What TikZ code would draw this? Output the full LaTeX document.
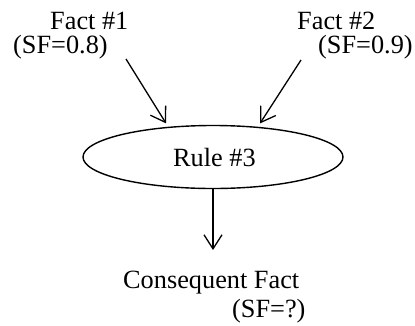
\documentclass[tikz,border=0pt]{standalone}
\usepackage{fontspec}
\setmainfont{Liberation Serif}
\usetikzlibrary{shapes.geometric,arrows.meta}
\begin{document}
\begin{tikzpicture}[x=1pt,y=-1pt,
  lbl/.style={anchor=base west,inner sep=0pt,font=\fontsize{26.3}{30}\selectfont},
  conn/.style={line width=1.3pt,-{Straight Barb[length=14pt,width=18pt,line width=1.3pt]}},
  rulebox/.style={draw,ellipse,line width=1.4pt,minimum width=260pt,minimum height=63pt,inner sep=0pt}]
\useasboundingbox (0,0) rectangle (415,325);
\node[lbl] (f1) at (50,29) {Fact \#1};
\node[lbl] (s1) at (13,53) {(SF=0.8)};
\node[lbl] (f2) at (297,29) {Fact \#2};
\node[lbl] (s2) at (318,53) {(SF=0.9)};
\node[rulebox] (rule) at (213,157) {};
\node[lbl] (rt) at (173,166) {Rule \#3};
\node[lbl] (cf) at (123,288) {Consequent Fact};
\node[lbl] (cs) at (232,317) {(SF=?)};
\coordinate (a1) at (126,59);
\coordinate (a2) at (301,60);
\coordinate (a3) at (213,250);
\draw[conn,shorten >=4pt] (a1) -- (rule.146);
\draw[conn,shorten >=4pt] (a2) -- (rule.34);
\draw[conn] (rule.south) -- (a3);
\end{tikzpicture}
\end{document}
